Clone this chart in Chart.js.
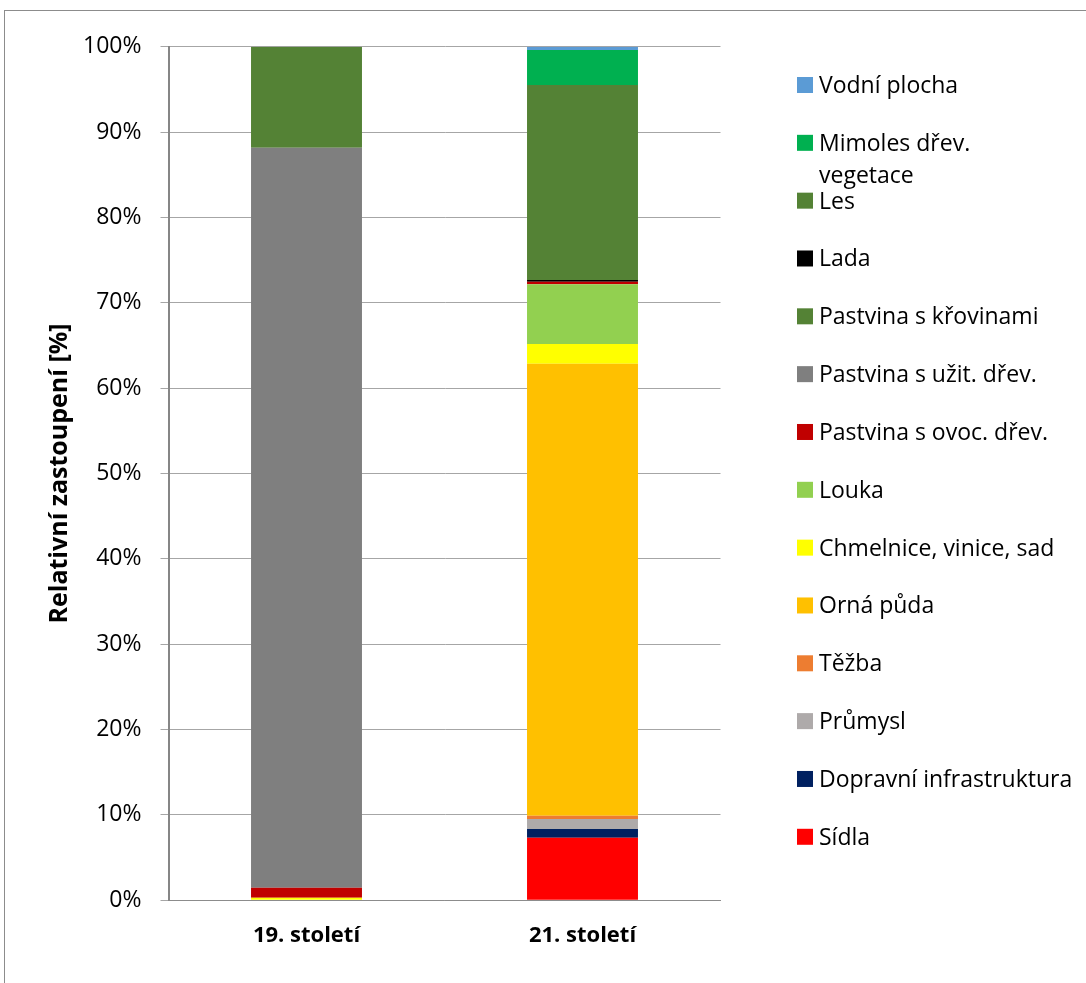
<!DOCTYPE html>
<html>
<head>
<meta charset="utf-8">
<title>Zastoupení ploch</title>
<script src="https://cdn.jsdelivr.net/npm/chart.js@4/dist/chart.umd.min.js"></script>
<style>
body{margin:0;background:#fff;overflow:hidden;}
#box{position:relative;width:1086px;height:983px;overflow:hidden;}
#frame{position:absolute;left:4px;top:10px;width:1200px;height:1200px;border:1px solid #8c8c8c;}
canvas{position:absolute;left:0;top:0;}
</style>
</head>
<body>
<div id="box"><div id="frame"></div><canvas id="chart" width="1086" height="983"></canvas></div>
<script>
'use strict';
// data
var periods = ['19. století', '21. století'];
var landUse = ['Sídla', 'Dopravní infrastruktura', 'Průmysl', 'Těžba', 'Orná půda', 'Chmelnice, vinice, sad', 'Louka', 'Pastvina s ovoc. dřev.', 'Pastvina s užit. dřev.', 'Pastvina s křovinami', 'Lada', 'Les', 'Mimoles dřev.\nvegetace', 'Vodní plocha'];
var landColor = ['#ff0000', '#002060', '#aeaaaa', '#ed7d31', '#ffc000', '#ffff00', '#92d050', '#c00000', '#7f7f7f', '#548235', '#000000', '#548235', '#00b050', '#5b9bd5'];
var share19 = [0, 0, 0, 0, 0, 0.30, 0, 1.17, 86.69, 0, 0, 11.83, 0, 0];
var share21 = [7.33, 1.02, 1.17, 0.39, 52.95, 2.31, 6.99, 0.30, 0, 0, 0.20, 22.84, 4.10, 0.39];
var yTicks = [0, 10, 20, 30, 40, 50, 60, 70, 80, 90, 100];

var font = 'Open Sans';

// build datasets, first one sits at the bottom of the stack
var datasets = [];
for (var i = 0; i < landUse.length; i++) {
  datasets.push({
    label: landUse[i],
    data: [share19[i], share21[i]],
    backgroundColor: landColor[i],
    borderWidth: 0,
    barPercentage: 0.402,
    categoryPercentage: 1
  });
}

// legend on the right, drawn top-down in reverse stack order
var sideLegend = {
  id: 'sideLegend',
  afterDraw: function (chart) {
    var ctx = chart.ctx;
    ctx.save();
    ctx.font = '23px "' + font + '"';
    ctx.textBaseline = 'alphabetic';
    for (var k = 0; k < landUse.length; k++) {
      var row = landUse.length - 1 - k;
      var y = 85 + row * 57.83;
      ctx.fillStyle = landColor[k];
      ctx.fillRect(797, y - 8, 16, 16);
      ctx.fillStyle = '#000';
      var lines = landUse[k].split('\n');
      for (var l = 0; l < lines.length; l++) {
        ctx.fillText(lines[l], 819, y + 8 + l * 32);
      }
    }
    ctx.restore();
  }
};

var placeOfChart = document.getElementById('chart').getContext('2d');
var chart = new Chart(placeOfChart, {
  type: 'bar',
  data: {
    labels: periods,
    datasets: datasets
  },
  plugins: [sideLegend],
  options: {
    responsive: false,
    animation: false,
    layout: { padding: { top: 46.7, right: 365.5, bottom: 0, left: 0 } },
    plugins: {
      legend: { display: false },
      tooltip: { enabled: false }
    },
    scales: {
      x: {
        stacked: true,
        grid: { display: false, drawTicks: false },
        border: { color: '#8c8c8c', width: 1 },
        ticks: {
          color: '#000',
          padding: 22,
          font: { family: font, size: 22, weight: 'bold' }
        },
        afterFit: function (s) { s.height = 82.7; }
      },
      y: {
        stacked: true,
        min: 0,
        max: 100,
        afterBuildTicks: function (s) {
          s.ticks = yTicks.map(function (v) { return { value: v }; });
        },
        ticks: {
          color: '#000',
          padding: 19,
          font: { family: font, size: 23 },
          callback: function (v) { return v + '%'; }
        },
        grid: { color: '#a6a6a6', lineWidth: 1, tickLength: 8, tickColor: '#a6a6a6' },
        border: { color: '#868686', width: 2 },
        title: {
          display: true,
          text: 'Relativní zastoupení [%]',
          color: '#000',
          font: { family: font, size: 25, weight: 'bold' },
          padding: { top: 45, bottom: 0 }
        },
        afterFit: function (s) { s.width = 168.5; }
      }
    }
  }
});
</script>
</body>
</html>
